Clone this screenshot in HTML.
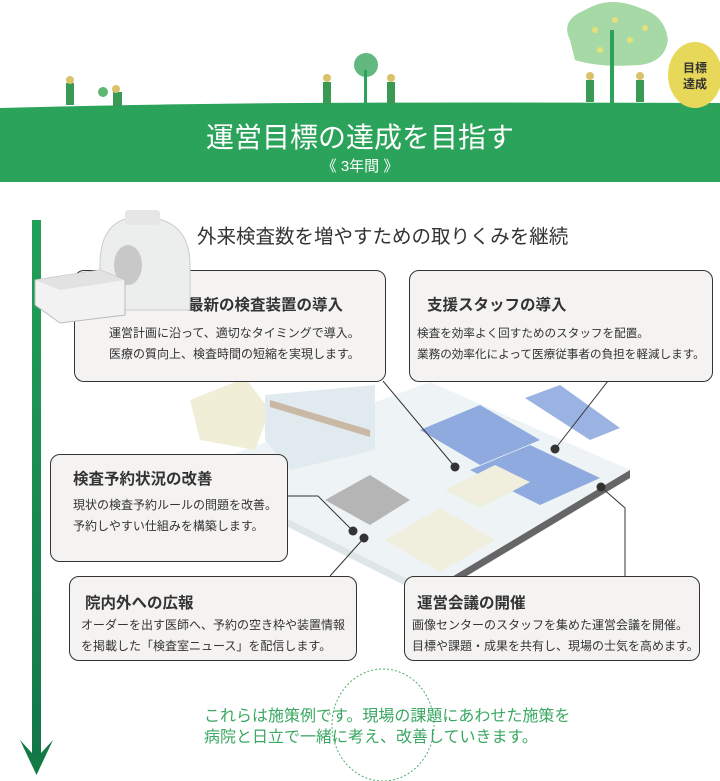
<!DOCTYPE html>
<html><head><meta charset="utf-8"><style>
body{margin:0;width:720px;height:781px;background:#fff;overflow:hidden;position:relative;font-family:"Liberation Sans","Noto Sans CJK JP",sans-serif;color:#333}
.box{position:absolute;background:#f4f3f1;border:1.5px solid #333;border-radius:10px;box-sizing:border-box}
.box h3{margin:0;font-size:15.5px;font-weight:bold;color:#333;position:absolute}
.box p{margin:0;font-size:12px;line-height:21px;position:absolute;white-space:nowrap;color:#333}
.t{position:absolute;white-space:nowrap}
</style></head><body>
<svg width="720" height="781" style="position:absolute;left:0;top:0">
<defs><linearGradient id="vg" x1="0" y1="0" x2="0" y2="1"><stop offset="0" stop-color="#21a058"/><stop offset="1" stop-color="#13764a"/></linearGradient></defs>
<path d="M0,108 Q150,104 300,103 T720,103 L720,182 L0,182 Z" fill="#2ba35a"/>
<path d="M570,40 Q560,20 585,10 Q610,-5 640,8 Q665,15 668,40 Q665,62 640,65 Q600,68 575,60 Z" fill="#a6d9a6"/>
<g fill="#e5e07a"><circle cx="595" cy="30" r="3"/><circle cx="615" cy="20" r="3"/><circle cx="630" cy="40" r="3"/><circle cx="600" cy="50" r="3"/><circle cx="645" cy="28" r="3"/></g>
<rect x="610" y="30" width="4" height="75" fill="#2ba35a"/>
<ellipse cx="695" cy="75" rx="27" ry="33" fill="#e8d85a"/>
<text x="695" y="72" font-size="12" text-anchor="middle" fill="#333" font-weight="bold">目標</text>
<text x="695" y="88" font-size="12" text-anchor="middle" fill="#333" font-weight="bold">達成</text>
<circle cx="366" cy="65" r="12" fill="#3aa860" opacity=".8"/><rect x="364" y="70" width="3" height="35" fill="#2ba35a"/>
<circle cx="103" cy="92" r="5" fill="#5cb870"/>
<g fill="#3a9a55"><rect x="66" y="83" width="8" height="22"/><rect x="113" y="92" width="9" height="14"/><rect x="323" y="82" width="8" height="22"/><rect x="387" y="82" width="8" height="22"/><rect x="586" y="80" width="8" height="22"/><rect x="636" y="80" width="8" height="22"/></g>
<g fill="#d9c26a"><circle cx="70" cy="80" r="4"/><circle cx="116" cy="89" r="4"/><circle cx="327" cy="78" r="4"/><circle cx="391" cy="78" r="4"/><circle cx="590" cy="76" r="4"/><circle cx="640" cy="76" r="4"/></g>
<rect x="32" y="220" width="9" height="540" fill="url(#vg)"/>
<path d="M20,740 L36.5,775 L53,740 L36.5,758 Z" fill="#137a45"/>
<polygon points="190,470 430,382 630,470 430,590" fill="#eef3f5"/>
<polygon points="190,470 430,590 430,598 190,478" fill="#dfe6e8"/>
<polygon points="430,590 630,470 630,478 430,598" fill="#666"/>
<polygon points="190,400 245,378 270,410 255,450 200,440" fill="#f0eed6"/>
<polygon points="265,395 375,385 375,450 290,470 265,440" fill="#e1eaef"/>
<polygon points="270,400 370,430 370,437 270,407" fill="#c9b9a4"/>
<polygon points="420,430 480,405 540,440 480,465" fill="#8eaade"/>
<polygon points="470,470 530,445 600,478 540,505" fill="#8eaade"/>
<polygon points="525,398 560,385 620,428 590,440" fill="#9ab3e2"/>
<polygon points="325,500 370,475 410,500 370,525" fill="#b5b5b5"/>
<polygon points="385,540 440,508 495,540 440,572" fill="#f0eedd"/>
<polygon points="445,490 495,465 530,482 480,508" fill="#f0eedd"/>
<g stroke="#333" stroke-width="1" fill="none">
<path d="M383,381 L455,467"/><path d="M608,381 L555,449"/>
<path d="M287,496 L318,496 L353,531"/><path d="M330,576 L364,538"/>
<path d="M625,576 L625,508 L601,487"/>
</g>
<g fill="#333"><circle cx="455" cy="467" r="4.5"/><circle cx="555" cy="449" r="4.5"/><circle cx="601" cy="487" r="4.5"/><circle cx="353" cy="531" r="4.5"/><circle cx="364" cy="538" r="4.5"/></g>
<ellipse cx="383" cy="725" rx="51" ry="56" fill="none" stroke="#4aae6a" stroke-width="1" stroke-dasharray="2,2"/>
</svg>
<div class="t" style="left:0;width:720px;text-align:center;top:116px;font-size:28px;color:#fff">運営目標の達成を目指す</div>
<div class="t" style="left:0;width:720px;text-align:center;top:155px;font-size:15px;color:#fff">《 3年間 》</div>
<div class="t" style="left:197px;top:220px;font-size:19.5px;color:#333">外来検査数を増やすための取りくみを継続</div>

<div class="box" style="left:74px;top:270px;width:312px;height:112px"><h3 style="left:113px;top:22px">最新の検査装置の導入</h3><p style="left:34px;top:52px">運営計画に沿って、適切なタイミングで導入。<br>医療の質向上、検査時間の短縮を実現します。</p></div>
<div class="box" style="left:409px;top:270px;width:304px;height:112px"><h3 style="left:17px;top:22px">支援スタッフの導入</h3><p style="left:7px;top:52px;font-size:11.6px">検査を効率よく回すためのスタッフを配置。<br>業務の効率化によって医療従事者の負担を軽減します。</p></div>
<div class="box" style="left:50px;top:454px;width:238px;height:108px"><h3 style="left:22px;top:12px">検査予約状況の改善</h3><p style="left:22px;top:40px">現状の検査予約ルールの問題を改善。<br>予約しやすい仕組みを構築します。</p></div>
<div class="box" style="left:69px;top:576px;width:288px;height:85px"><h3 style="left:15px;top:14px">院内外への広報</h3><p style="left:11px;top:38px">オーダーを出す医師へ、予約の空き枠や装置情報<br>を掲載した「検査室ニュース」を配信します。</p></div>
<div class="box" style="left:404px;top:576px;width:296px;height:85px"><h3 style="left:12px;top:14px">運営会議の開催</h3><p style="left:7px;top:38px">画像センターのスタッフを集めた運営会議を開催。<br>目標や課題・成果を共有し、現場の士気を高めます。</p></div>

<svg width="170" height="120" style="position:absolute;left:30px;top:205px">
<path d="M70,60 Q70,12 110,12 Q160,12 160,60 L160,105 L70,105 Z" fill="#eceded" stroke="#ccc"/>
<rect x="95" y="5" width="35" height="15" rx="3" fill="#e6e6e6"/>
<ellipse cx="98" cy="60" rx="14" ry="20" fill="#c8c8c8"/>
<polygon points="5,75 70,65 95,75 95,110 30,118 5,100" fill="#f2f2f2" stroke="#bbb"/>
<polygon points="5,75 70,65 95,75 30,85" fill="#e2e2e2"/>
</svg>
<div class="t" style="left:204px;top:706px;font-size:16px;color:#3aa862;line-height:21px">これらは施策例です。現場の課題にあわせた施策を<br>病院と日立で一緒に考え、改善していきます。</div>
</body></html>
